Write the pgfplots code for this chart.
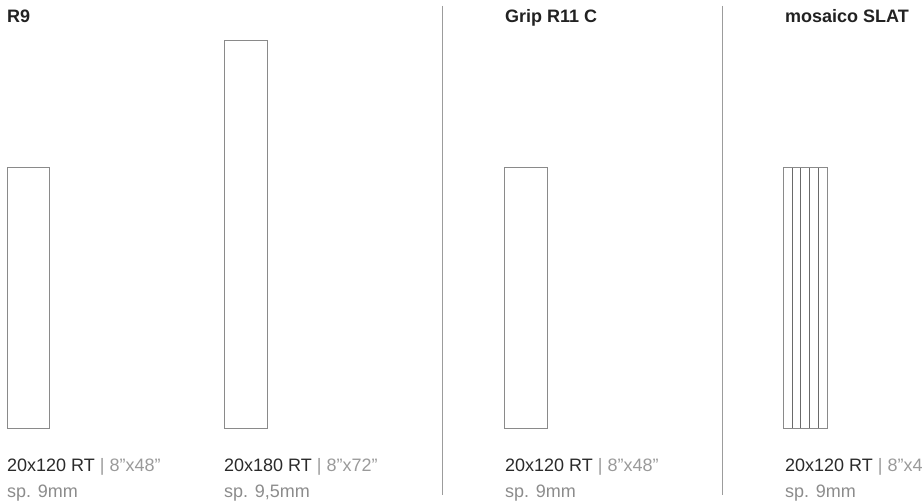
\documentclass[border=0pt]{standalone}
\usepackage{fontspec}
\setmainfont{Liberation Sans}
\usepackage{pgfplots}
\pgfplotsset{compat=1.18}

\definecolor{titlec}{HTML}{222222}
\definecolor{sizec}{HTML}{2A2A2A}
\definecolor{inchc}{HTML}{9A9A9A}
\definecolor{thickc}{HTML}{8C8C8C}
\definecolor{edgec}{HTML}{8A8A8A}
\definecolor{slatc}{HTML}{6A6A6A}
\definecolor{sepc}{HTML}{9C9C9C}

\newcommand{\ttl}[1]{\fontsize{18pt}{20pt}\selectfont\bfseries\color{titlec}#1}
\newcommand{\sz}[2]{\fontsize{18pt}{20pt}\selectfont\color{sizec}#1 \color{inchc}| #2}
\newcommand{\thk}[1]{\fontsize{18pt}{20pt}\selectfont\color{thickc}#1}

\begin{document}
\begin{tikzpicture}
\path[use as bounding box] (0,0) rectangle (923pt,502pt);
\begin{axis}[
  at={(0,0)}, anchor=south west,
  scale only axis,
  width=923pt, height=502pt,
  xmin=0, xmax=923, ymin=0, ymax=502,
  y dir=reverse,
  hide axis,
  clip=false,
  tile/.style={no marks, line width=1pt, draw=edgec},
  joint/.style={no marks, line width=1pt, draw=slatc},
  sep/.style={no marks, line width=1.2pt, draw=sepc},
]
% tiles
\addplot[tile] coordinates {(7,168) (49,168) (49,428) (7,428) (7,168)};
\addplot[tile] coordinates {(224,41) (267,41) (267,428) (224,428) (224,41)};
\addplot[tile] coordinates {(504,168) (547,168) (547,428) (504,428) (504,168)};
\addplot[tile] coordinates {(783,168) (827,168) (827,428) (783,428) (783,168)};
% slat joints
\addplot[joint] coordinates {(792,168) (792,428)};
\addplot[joint] coordinates {(800.5,168) (800.5,428)};
\addplot[joint] coordinates {(809,168) (809,428)};
\addplot[joint] coordinates {(818,168) (818,428)};
% separators
\addplot[sep] coordinates {(442.5,6) (442.5,495)};
\addplot[sep] coordinates {(722.5,6) (722.5,495)};

% titles
\node[anchor=base west, inner sep=0pt] at (axis cs:7,23) {\ttl{R9}};
\node[anchor=base west, inner sep=0pt] at (axis cs:505,23) {\ttl{Grip R11 C}};
\node[anchor=base west, inner sep=0pt] at (axis cs:785,23) {\ttl{mosaico SLAT}};

% sizes
\node[anchor=base west, inner sep=0pt] at (axis cs:7,471) {\sz{20x120 RT}{8"x48"}};
\node[anchor=base west, inner sep=0pt] at (axis cs:224,471) {\sz{20x180 RT}{8"x72"}};
\node[anchor=base west, inner sep=0pt] at (axis cs:505,471) {\sz{20x120 RT}{8"x48"}};
\node[anchor=base west, inner sep=0pt, overlay] at (axis cs:785,471) {\sz{20x120 RT}{8"x48"}};

\node[anchor=base west, inner sep=0pt] at (axis cs:7,497) {\thk{sp. 9mm}};
\node[anchor=base west, inner sep=0pt] at (axis cs:224,497) {\thk{sp. 9,5mm}};
\node[anchor=base west, inner sep=0pt] at (axis cs:505,497) {\thk{sp. 9mm}};
\node[anchor=base west, inner sep=0pt] at (axis cs:785,497) {\thk{sp. 9mm}};
\end{axis}
\end{tikzpicture}
\end{document}
